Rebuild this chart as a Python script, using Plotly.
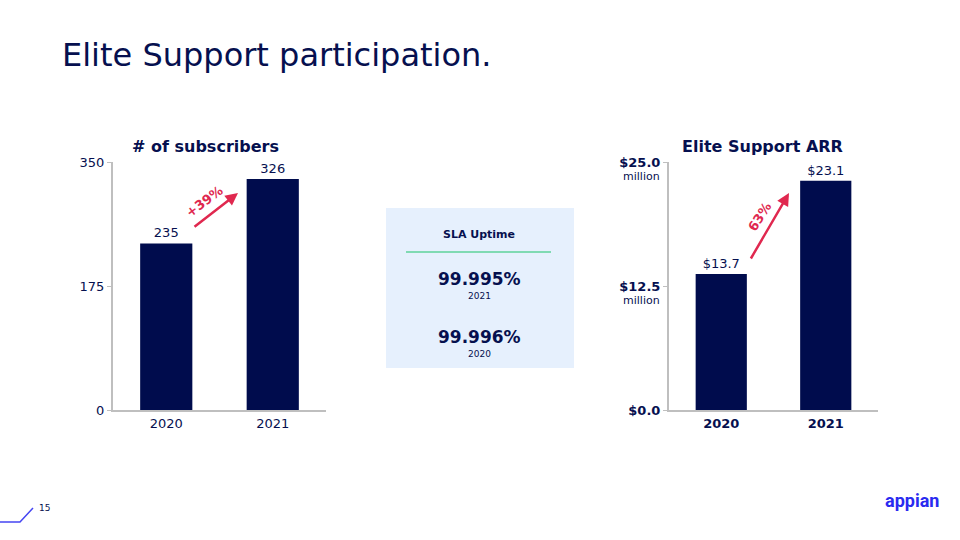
import plotly.graph_objects as go

W, H = 960, 540
def px(x): return x / W
def py(y): return (H - y) / H

# ---- data ----
years = ["2020", "2021"]
subscribers = [235, 326]
subs_ticks = [0, 175, 350]
subs_ticktext = ["0", "175", "350"]
arr_millions = [13.7, 23.1]
arr_ticks = [0, 12.5, 25.0]
arr_ticktext = ["$0.0", "$12.5", "$25.0"]
arr_labels = ["$13.7", "$23.1"]
subs_growth = "+39%"
arr_growth = "63%"
sla_title = "SLA Uptime"
sla_values = ["99.995%", "99.996%"]
sla_years = ["2021", "2020"]

NAVY = "#06104f"
BAR = "#000c4d"
RED = "#e0284f"
GRAY = "#bfbfbf"
FONT = "DejaVu Sans"

fig = go.Figure()
fig.add_trace(go.Bar(x=years, y=subscribers, text=[str(v) for v in subscribers],
                     textposition="outside", cliponaxis=False,
                     textfont=dict(size=13, color=NAVY, family=FONT),
                     marker=dict(color=BAR, line=dict(width=0)),
                     width=0.49, xaxis="x", yaxis="y", showlegend=False, hoverinfo="skip"))
fig.add_trace(go.Bar(x=years, y=arr_millions, text=arr_labels,
                     textposition="outside", cliponaxis=False,
                     textfont=dict(size=13, color=NAVY, family=FONT),
                     marker=dict(color=BAR, line=dict(width=0)),
                     width=0.49, xaxis="x2", yaxis="y2", showlegend=False, hoverinfo="skip"))

axis_common = dict(showgrid=False, zeroline=False, showline=True, linecolor=GRAY, linewidth=2,
                   automargin=False)
fig.update_layout(
    width=W, height=H, margin=dict(l=0, r=0, t=0, b=0, pad=0, autoexpand=False),
    paper_bgcolor="white", plot_bgcolor="rgba(0,0,0,0)",
    font=dict(family=FONT, color=NAVY),
    xaxis=dict(domain=[px(113), px(326)], anchor="y", type="category",
               tickfont=dict(size=13, color=NAVY), ticks="", **axis_common),
    yaxis=dict(domain=[py(410), py(162)], anchor="x", range=[0, 350],
               tickvals=subs_ticks, ticktext=subs_ticktext, ticks="outside",
               ticklen=4, tickcolor=GRAY, tickwidth=1,
               tickfont=dict(size=13, color=NAVY), **axis_common),
    xaxis2=dict(domain=[px(669), px(878)], anchor="y2", type="category",
                tickfont=dict(size=13, color=NAVY), ticks="",
                ticktext=["<b>%s</b>" % y for y in years], tickvals=years, **axis_common),
    yaxis2=dict(domain=[py(410), py(162)], anchor="x2", range=[0, 25],
                tickvals=arr_ticks, ticktext=["<b>%s</b>" % t for t in arr_ticktext],
                ticks="outside", ticklen=4, tickcolor=GRAY, tickwidth=1,
                tickfont=dict(size=13, color=NAVY), **axis_common),
)

ann = []
ann.append(dict(text="Elite Support participation.", x=px(60), y=py(55), xref="paper", yref="paper",
                xanchor="left", yanchor="middle", showarrow=False,
                font=dict(size=32, color=NAVY, family=FONT)))
ann.append(dict(text="<b># of subscribers</b>", x=px(205), y=py(146), xref="paper", yref="paper",
                xanchor="center", yanchor="middle", showarrow=False, font=dict(size=16, color=NAVY)))
ann.append(dict(text="<b>Elite Support ARR</b>", x=px(762), y=py(146), xref="paper", yref="paper",
                xanchor="center", yanchor="middle", showarrow=False, font=dict(size=16, color=NAVY)))
for t in arr_ticks[1:]:
    ann.append(dict(text="million", x=px(662), y=t, xref="paper", yref="y2", yshift=-14,
                    xanchor="right", yanchor="middle", showarrow=False, font=dict(size=11, color=NAVY)))
# arrows
ann.append(dict(x=px(238), y=py(193), xref="paper", yref="paper", ax=-45, ay=35, axref="pixel", ayref="pixel",
                showarrow=True, arrowhead=2, arrowsize=1, arrowwidth=2.5, arrowcolor=RED, text=""))
ann.append(dict(text="<b>%s</b>" % subs_growth, x=px(204), y=py(201), xref="paper", yref="paper",
                xanchor="center", yanchor="middle",
                showarrow=False, textangle=-37, font=dict(size=13, color=RED)))
ann.append(dict(x=px(789), y=py(193), xref="paper", yref="paper", ax=-39, ay=67,
                showarrow=True, arrowhead=2, arrowsize=1, arrowwidth=2.5, arrowcolor=RED, text=""))
ann.append(dict(text="<b>%s</b>" % arr_growth, x=px(759), y=py(217), xref="paper", yref="paper",
                xanchor="center", yanchor="middle",
                showarrow=False, textangle=-58, font=dict(size=13, color=RED)))
# SLA box text
ann.append(dict(text="<b>%s</b>" % sla_title, x=px(479), y=py(234), xref="paper", yref="paper",
                xanchor="center", showarrow=False, font=dict(size=11, color=NAVY)))
for i, (v, yr) in enumerate(zip(sla_values, sla_years)):
    yc = 279 + i * 58
    ann.append(dict(text="<b>%s</b>" % v, x=px(479), y=py(yc), xref="paper", yref="paper",
                    xanchor="center", showarrow=False, font=dict(size=17, color=NAVY)))
    ann.append(dict(text=yr, x=px(479), y=py(yc + 17), xref="paper", yref="paper",
                    xanchor="center", showarrow=False, font=dict(size=9, color=NAVY)))
# footer
ann.append(dict(text="15", x=px(44), y=py(515), xref="paper", yref="paper", xanchor="center",
                showarrow=False, font=dict(size=9, color=NAVY)))
ann.append(dict(text="<b>appian</b>", x=px(912), y=py(513), xref="paper", yref="paper", xanchor="center",
                showarrow=False, font=dict(size=18, color="#2a2af0", family="Roboto")))
fig.update_layout(annotations=ann)

fig.update_layout(shapes=[
    dict(type="rect", xref="paper", yref="paper", x0=px(386), x1=px(574), y0=py(368), y1=py(208),
         fillcolor="#e6f0fd", line=dict(width=0), layer="below"),
    dict(type="line", xref="paper", yref="paper", x0=px(406), x1=px(551), y0=py(252), y1=py(252),
         line=dict(color="#5ed39a", width=1.5)),
    dict(type="path", xref="paper", yref="paper",
         path="M %f,%f L %f,%f L %f,%f" % (px(0), py(522), px(20), py(522), px(33), py(508)),
         line=dict(color="#4646f2", width=1.5)),
])

fig.write_html("out.html")
